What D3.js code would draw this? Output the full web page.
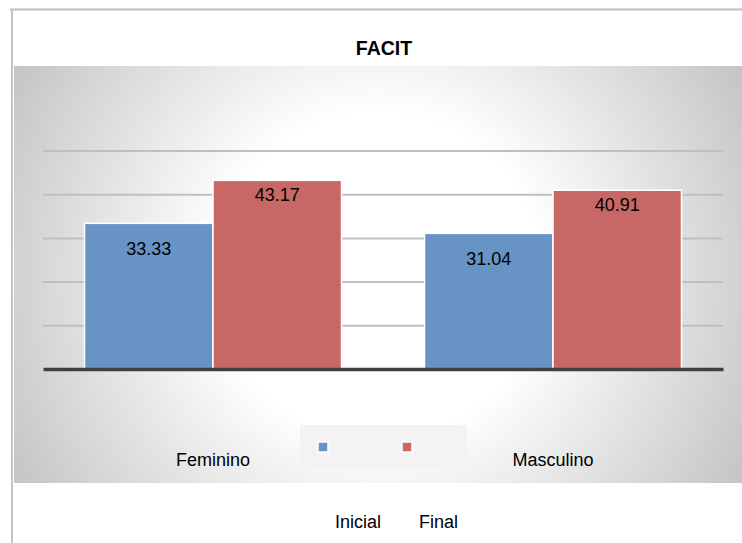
<!DOCTYPE html>
<html>
<head>
<meta charset="utf-8">
<script src="https://cdn.jsdelivr.net/npm/d3@7"></script>
<style>
  html, body { margin: 0; padding: 0; background: #fff; }
  svg { display: block; font-family: "Liberation Sans", Arial, sans-serif; }
</style>
</head>
<body>
<svg id="chart" width="742" height="543"></svg>
<script>
// Chart data
const categories = ["Feminino", "Masculino"];
const seriesNames = ["Inicial", "Final"];
const inicialValues = [33.33, 31.04];
const finalValues = [43.17, 40.91];
const yTicks = [0, 10, 20, 30, 40, 50];
const titleText = "FACIT";

const seriesColors = { Inicial: "#6893c5", Final: "#c86866" };
const labelOffset = { Inicial: 32, Final: 21 };

const svg = d3.select("#chart");
const W = 742, H = 543;

// Background gradient for the plot panel
const defs = svg.append("defs");
const grad = defs.append("radialGradient")
  .attr("id", "panelGrad")
  .attr("gradientUnits", "userSpaceOnUse")
  .attr("cx", 378).attr("cy", 275).attr("r", 425);
grad.append("stop").attr("offset", "0").attr("stop-color", "#ffffff");
grad.append("stop").attr("offset", "0.38").attr("stop-color", "#ffffff");
grad.append("stop").attr("offset", "1").attr("stop-color", "#c3c3c3");

// Outer frame (top and left edges)
svg.append("line").attr("x1", 10).attr("x2", W).attr("y1", 9.5).attr("y2", 9.5)
  .attr("stroke", "#bdbdbd").attr("stroke-width", 2);
svg.append("line").attr("x1", 12).attr("x2", 12).attr("y1", 9).attr("y2", H)
  .attr("stroke", "#c4c4c4").attr("stroke-width", 2);

// Gradient panel
svg.append("rect").attr("x", 14).attr("y", 66).attr("width", W - 14).attr("height", 417)
  .attr("fill", "url(#panelGrad)");

// Title
svg.append("text").attr("x", 384).attr("y", 55)
  .attr("text-anchor", "middle").attr("font-size", 19.5).attr("font-weight", "bold")
  .attr("fill", "#000").text(titleText);

// Scales
const plotLeft = 43, plotRight = 723, plotBottom = 369, plotTop = 150.5;
const x = d3.scaleBand().domain(categories).range([plotLeft, plotRight]).padding(0);
const xSub = d3.scaleBand().domain(seriesNames).range([0, x.bandwidth()])
  .paddingInner(0).paddingOuter(0.323);
const y = d3.scaleLinear().domain([0, 50]).range([plotBottom, plotTop]);

// Gridlines
const yAxis = d3.axisLeft(y).tickValues(yTicks.filter(t => t > 0))
  .tickSize(-(plotRight - plotLeft)).tickFormat("");
const gGrid = svg.append("g").attr("transform", `translate(${plotLeft},0)`).call(yAxis);
gGrid.select(".domain").remove();
gGrid.selectAll(".tick line").attr("stroke", "#bfbfbf").attr("stroke-width", 2);

// Bars
const rows = categories.map((c, i) => ({
  category: c,
  values: [
    { series: "Inicial", value: inicialValues[i] },
    { series: "Final", value: finalValues[i] }
  ]
}));

const groups = svg.append("g").selectAll("g").data(rows).join("g")
  .attr("transform", d => `translate(${x(d.category)},0)`);

groups.selectAll("rect").data(d => d.values).join("rect")
  .attr("x", d => xSub(d.series))
  .attr("y", d => y(d.value))
  .attr("width", xSub.bandwidth())
  .attr("height", d => y(0) - y(d.value))
  .attr("fill", d => seriesColors[d.series])
  .attr("stroke", "#ffffff").attr("stroke-width", 1.5);

groups.selectAll("text.val").data(d => d.values).join("text")
  .attr("class", "val")
  .attr("x", d => xSub(d.series) + xSub.bandwidth() / 2)
  .attr("y", d => y(d.value) + labelOffset[d.series])
  .attr("text-anchor", "middle").attr("font-size", 18).attr("fill", "#000")
  .text(d => d.value.toFixed(2));

// Category axis line
const xAxis = d3.axisBottom(x).tickSize(0).tickFormat("");
const gX = svg.append("g").attr("transform", `translate(0,${plotBottom})`).call(xAxis);
gX.select(".domain").attr("stroke", "#404040").attr("stroke-width", 3.5);

// Category labels
svg.append("g").selectAll("text").data(categories).join("text")
  .attr("x", d => x(d) + x.bandwidth() / 2)
  .attr("y", 466)
  .attr("text-anchor", "middle").attr("font-size", 18).attr("fill", "#000")
  .text(d => d);

// Legend
svg.append("rect").attr("x", 300).attr("y", 425).attr("width", 167).attr("height", 43)
  .attr("fill", "#f3f3f3");
const legendX = d3.scalePoint().domain(seriesNames).range([318, 402]);
const lg = svg.append("g").selectAll("g").data(seriesNames).join("g");
lg.append("rect")
  .attr("x", d => legendX(d)).attr("y", 442)
  .attr("width", 10).attr("height", 10)
  .attr("fill", d => seriesColors[d])
  .attr("stroke", "#ffffff").attr("stroke-width", 1.5);
lg.append("text")
  .attr("x", d => legendX(d) + 17).attr("y", 528)
  .attr("font-size", 18).attr("fill", "#000")
  .text(d => d);
</script>
</body>
</html>
